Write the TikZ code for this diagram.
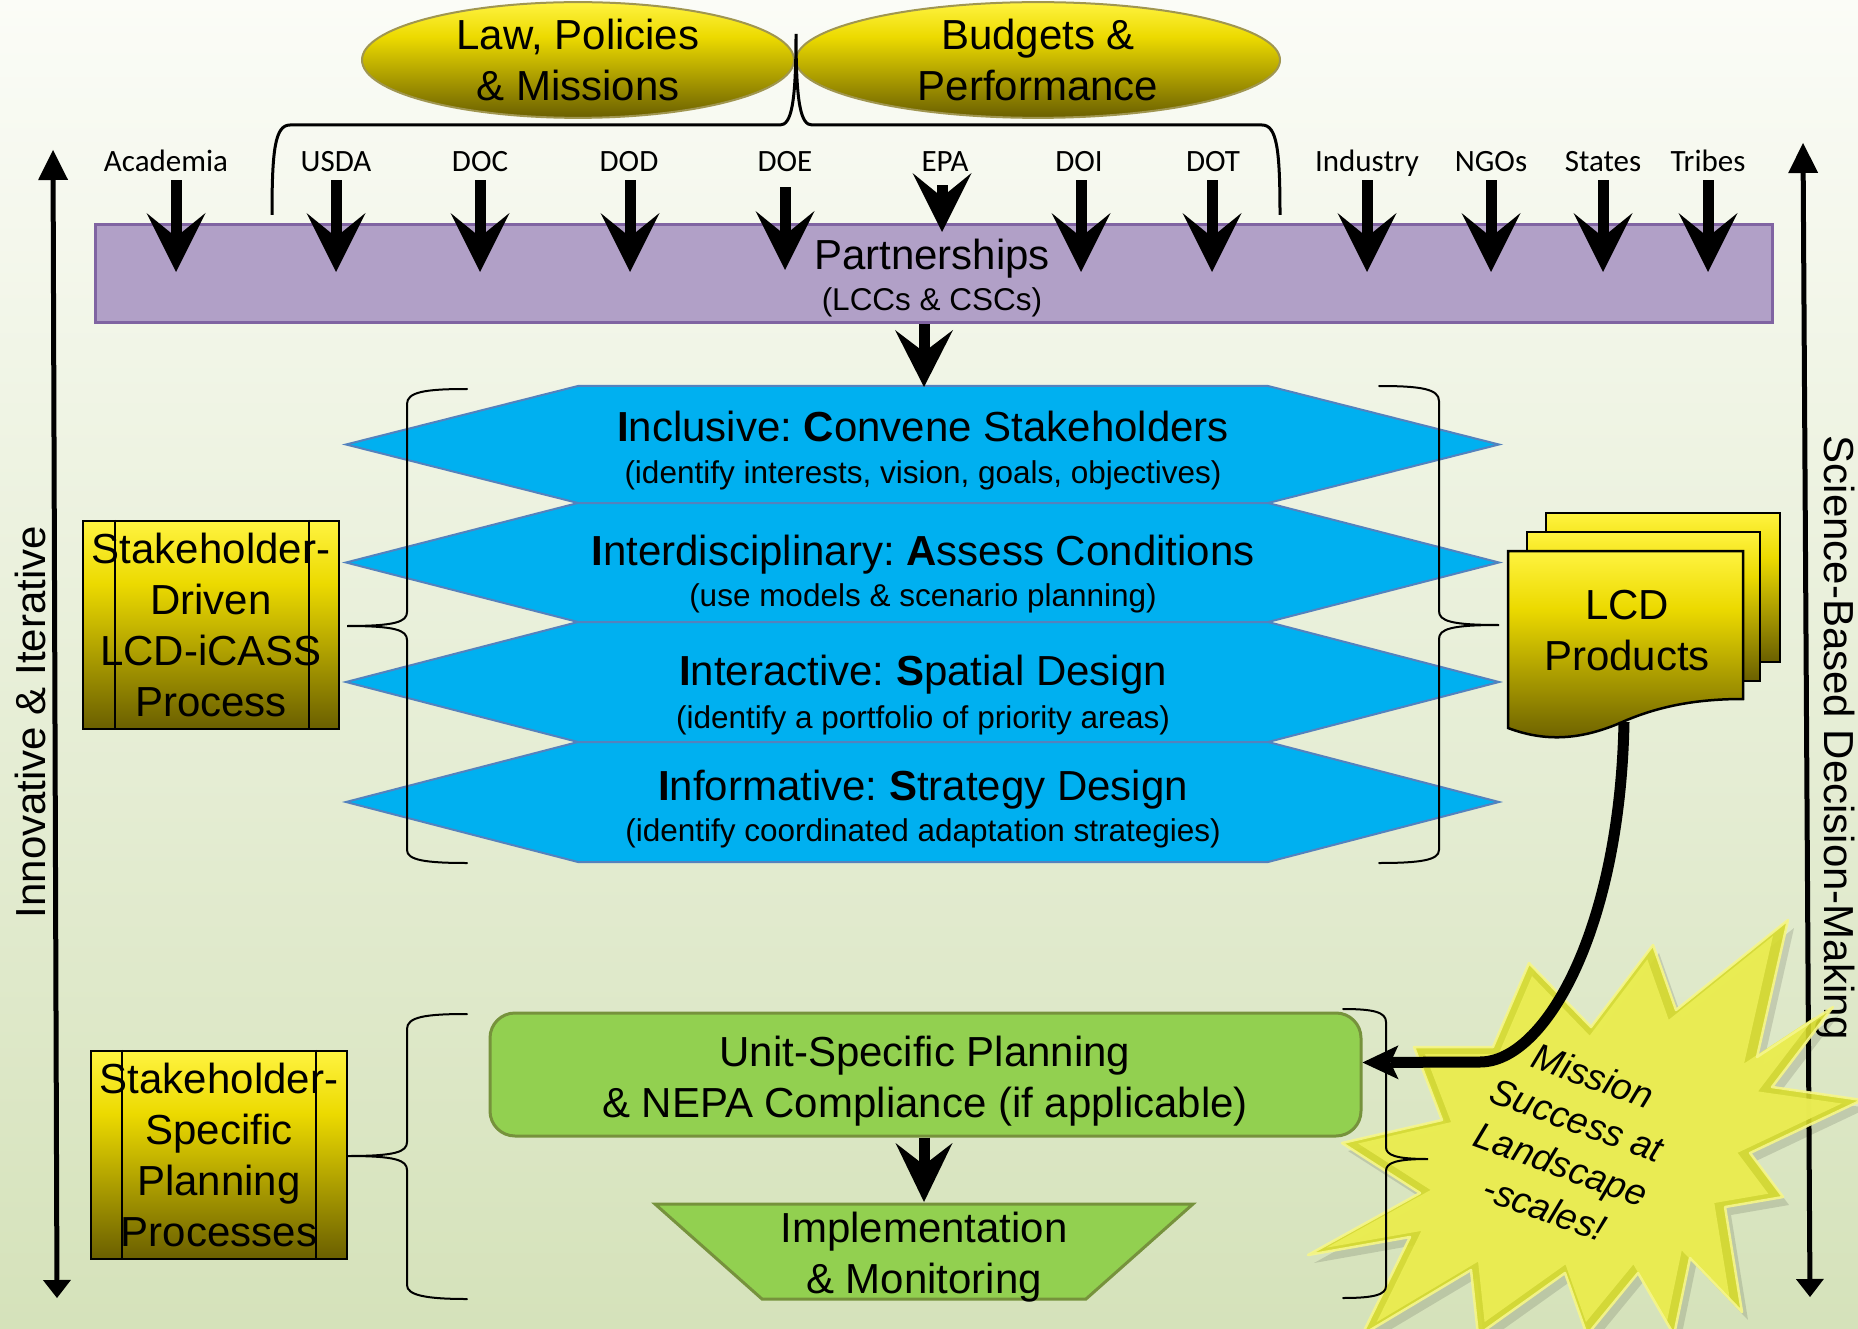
\documentclass[tikz,border=0pt]{standalone}
\usepackage{fontspec}
\setmainfont{Liberation Sans}
\newfontfamily\agfont{Carlito}
\usetikzlibrary{arrows.meta,calc,shapes.geometric}
\frenchspacing
\definecolor{bgtop}{RGB}{251,252,247}
\definecolor{bgbot}{RGB}{213,226,186}
\definecolor{gtop}{RGB}{255,243,64}
\definecolor{gmid}{RGB}{236,218,0}
\definecolor{gdark}{RGB}{106,95,0}
\definecolor{hexblue}{RGB}{0,176,240}
\definecolor{hexedge}{RGB}{84,130,190}
\definecolor{partfill}{RGB}{177,160,199}
\definecolor{partedge}{RGB}{128,100,162}
\definecolor{grfill}{RGB}{146,208,80}
\definecolor{gredge}{RGB}{118,146,60}
\definecolor{elledge}{RGB}{160,150,80}
\definecolor{starfill}{RGB}{214,218,44}
\definecolor{starinner}{RGB}{236,238,86}
\definecolor{staredge}{RGB}{246,246,140}
\pgfdeclareverticalshading{gold}{100bp}{color(0bp)=(gdark); color(25bp)=(gdark); color(60bp)=(gmid); color(75bp)=(gtop); color(100bp)=(gtop)}
\newcommand\myfbig{\fontsize{42}{51}\selectfont}
\newcommand\myfsub{\fontsize{31.5}{37}\selectfont}
\newcommand\myfag{\agfont\fontsize{31}{37}\selectfont}
\newcommand\myfstar{\itshape\fontsize{37}{47}\selectfont}
\begin{document}
\begin{tikzpicture}[x=1pt,y=-1pt,
  aglbl/.style={font=\myfag, inner sep=0pt, text height=20pt, text depth=8pt, anchor=base},
  agarrow/.style={line width=11pt, -{Stealth[length=59pt,width=59pt,inset=24pt,line width=0pt]}},
  ellnode/.style={ellipse, draw=elledge, line width=2pt, shade, shading=gold, inner sep=0pt, align=center, font=\myfbig},
  goldbox/.style={draw=black, line width=2.5pt, shade, shading=gold, inner sep=0pt, align=center, font=\myfbig},
  docstyle/.style={draw=black, line width=2.5pt, shade, shading=gold},
  hexstyle/.style={fill=hexblue, draw=hexedge, line width=2pt},
  hextitle/.style={font=\myfbig, inner sep=0pt, anchor=base},
  hexsub/.style={font=\myfsub, inner sep=0pt, anchor=base},
  bracestyle/.style={line width=2pt, line cap=round},
  vertarrow/.style={line width=5pt, {Triangle[length=30pt,width=30pt,line width=0pt]}-{Triangle[length=18pt,width=28pt,line width=0pt]}},
  greenshape/.style={draw=gredge, fill=grfill, line width=3pt}
]
\useasboundingbox (0,0) rectangle (1858,1329);
\fill[top color=bgtop, bottom color=bgbot] (0,0) rectangle (1858,1329);

% right vertical arrow and label (under the star)
\coordinate (rtop) at (1803,143);
\coordinate (rbot) at (1810,1297);
\draw[vertarrow] (rtop) -- (rbot);
\node[rotate=-90, font=\myfbig, inner sep=0pt] (science) at (1835,738) {Science-Based Decision-Making};

% left vertical arrow and label
\coordinate (ltop) at (53,150);
\coordinate (lbot) at (57,1298);
\draw[vertarrow] (ltop) -- (lbot);
\node[rotate=90, font=\myfbig, inner sep=0pt] (innov) at (30,722) {Innovative \& Iterative};

% top ellipses
\node[ellnode, minimum width=432pt, minimum height=110pt] (law) at (578,60) {Law, Policies\\\& Missions};
\node[ellnode, minimum width=484pt, minimum height=110pt] (budget) at (1038,60) {Budgets \&\\Performance};

% agency brace
\draw[line width=3pt] (272,215) .. controls (272,150) and (275,125) .. (290,125) -- (780,125)
  .. controls (791,125) and (796,105) .. (796,34) .. controls (796,105) and (801,125) .. (812,125)
  -- (1262,125) .. controls (1277,125) and (1280,150) .. (1280,215);

% partnerships box
\node[draw=partedge, fill=partfill, line width=3pt, minimum width=1677pt, minimum height=98pt, inner sep=0pt] (part) at (933.5,274) {};

% agency labels
\node[aglbl] (acad) at (166,172) {Academia};
\node[aglbl] (usda) at (336,172) {USDA};
\node[aglbl] (doc) at (480,172) {DOC};
\node[aglbl] (dod) at (629,172) {DOD};
\node[aglbl] (doe) at (785,172) {DOE};
\node[aglbl] (epa) at (945,172) {EPA};
\node[aglbl] (doi) at (1079,172) {DOI};
\node[aglbl] (dot) at (1213,172) {DOT};
\node[aglbl] (industry) at (1367,172) {Industry};
\node[aglbl] (ngos) at (1491,172) {NGOs};
\node[aglbl] (states) at (1603,172) {States};
\node[aglbl] (tribes) at (1708,172) {Tribes};

\coordinate (acadT) at (176,272);
\coordinate (usdaT) at (336,272);
\coordinate (docT) at (480,272);
\coordinate (dodT) at (630,272);
\coordinate (doeT) at (785,270);
\coordinate (epaT) at (942,232);
\coordinate (doiT) at (1081,272);
\coordinate (dotT) at (1212,272);
\coordinate (industryT) at (1367,272);
\coordinate (ngosT) at (1491,272);
\coordinate (statesT) at (1603,272);
\coordinate (tribesT) at (1708,272);
\coordinate (doeS) at ([yshift=-7pt]doe.south);
\coordinate (epaS) at ([yshift=-5pt]epa.south);

\foreach \a in {acad,usda,doc,dod,doi,dot,industry,ngos,states,tribes}{
  \draw[agarrow] (\a.south -| \a T) -- (\a T);
}
\draw[agarrow] (doeS -| doeT) -- (doeT);
\draw[agarrow] (epaS -| epaT) -- (epaT);

\node[font=\myfbig, inner sep=0pt, anchor=base] (parttitle) at (932,270) {Partnerships};
\node[font=\myfsub, inner sep=0pt, anchor=base] (partsub) at (932,311) {(LCCs \& CSCs)};

% hexagons
\draw[hexstyle] (346,444.5) -- (578,386) -- (1268,386) -- (1499,444.5) -- (1268,503) -- (578,503) -- cycle;
\draw[hexstyle] (346,562.5) -- (578,503) -- (1268,503) -- (1499,562.5) -- (1268,622) -- (578,622) -- cycle;
\draw[hexstyle] (346,682) -- (578,622) -- (1268,622) -- (1499,682) -- (1268,742) -- (578,742) -- cycle;
\draw[hexstyle] (346,802) -- (578,742) -- (1268,742) -- (1499,802) -- (1268,862) -- (578,862) -- cycle;
\coordinate (hex1top) at (924,387);

\node[hextitle] (h1t) at (923,442) {\textbf{I}nclusive: \textbf{C}onvene Stakeholders};
\node[hexsub] (h1s) at (923,483) {(identify interests, vision, goals, objectives)};
\node[hextitle] (h2t) at (923,565) {\textbf{I}nterdisciplinary: \textbf{A}ssess Conditions};
\node[hexsub] (h2s) at (923,606) {(use models \& scenario planning)};
\node[hextitle] (h3t) at (923,685) {\textbf{I}nteractive: \textbf{S}patial Design};
\node[hexsub] (h3s) at (923,728) {(identify a portfolio of priority areas)};
\node[hextitle] (h4t) at (923,800) {\textbf{I}nformative: \textbf{S}trategy Design};
\node[hexsub] (h4s) at (923,841) {(identify coordinated adaptation strategies)};

\draw[line width=11pt, -{Stealth[length=57pt,width=58pt,inset=22pt,line width=0pt]}] (part.south -| hex1top) -- (hex1top);

% braces around hexagons
\draw[bracestyle] (467,389) .. controls (425,389) and (407,392) .. (407,404) -- (407,612)
  .. controls (407,622) and (395,626) .. (347,626) .. controls (395,626) and (407,630) .. (407,640)
  -- (407,850) .. controls (407,860) and (425,863) .. (467,863);
\draw[bracestyle] (1379,386) .. controls (1421,386) and (1439,389) .. (1439,401) -- (1439,611)
  .. controls (1439,621) and (1451,625) .. (1499,625) .. controls (1451,625) and (1439,629) .. (1439,639)
  -- (1439,850) .. controls (1439,860) and (1421,863) .. (1379,863);

% stakeholder-driven box
\node[goldbox, minimum width=256pt, minimum height=208pt] (sdriven) at (211,625) {Stakeholder-\\Driven\\LCD-iCASS\\Process};
\draw[line width=2pt] ([xshift=33pt]sdriven.north west) -- ([xshift=33pt]sdriven.south west);
\draw[line width=2pt] ([xshift=-31pt]sdriven.north east) -- ([xshift=-31pt]sdriven.south east);

% LCD products
\draw[docstyle] (1546,513) rectangle (1780,662);
\draw[docstyle] (1527,532) rectangle (1760,681);
\draw[docstyle] (1508,551) -- (1743,551) -- (1743,699) .. controls (1700,699) and (1660,705) .. (1620,723)
  .. controls (1580,740) and (1545,742) .. (1508,728) -- cycle;
\node[font=\myfbig, align=center, inner sep=0pt] (lcd) at (1627,631) {LCD\\Products};
\coordinate (lcdbottom) at (1624,722);

% star
\def\starpath{(1529,963) -- (1591,1027) -- (1653,945) -- (1676,1010) -- (1788,920) -- (1757,1057)
  -- (1833,1007) -- (1772,1087) -- (1862,1100) -- (1750,1153) -- (1783,1197) -- (1725,1207)
  -- (1742,1312) -- (1690,1258) -- (1674,1335) -- (1638,1273) -- (1587,1335) -- (1565,1273)
  -- (1478,1335) -- (1471,1270) -- (1362,1335) -- (1410,1237) -- (1308,1255) -- (1420,1193)
  -- (1342,1143) -- (1442,1120) -- (1414,1047) -- (1493,1047) -- cycle}
\fill[black, opacity=0.12, shift={(6pt,-8pt)}] \starpath;
\fill[starfill, opacity=0.9] \starpath;
\fill[starinner, opacity=0.9, scale around={0.93:(1572,1150)}] \starpath;
\draw[staredge, line width=2.5pt, line join=round, opacity=0.9] \starpath;
\node[font=\myfstar, align=center, rotate=-20, inner sep=0pt] (mission) at (1569,1142) {Mission\\Success at\\Landscape\\-scales!};

% lower section
\node[greenshape, rounded corners=25pt, minimum width=871pt, minimum height=123pt, inner sep=0pt] (green) at (925.5,1074.5) {};
\node[font=\myfbig, align=center, inner sep=0pt] (greentxt) at (925,1081) {Unit-Specific Planning\\\& NEPA Compliance (if applicable)};

\draw[greenshape] (655,1204) -- (1193,1204) -- (1086,1299) -- (762,1299) -- cycle;
\node[font=\myfbig, align=center, inner sep=0pt] (impl) at (924,1257) {Implementation\\\& Monitoring};
\coordinate (trtop) at (924,1202);
\draw[line width=11pt, -{Stealth[length=59pt,width=57pt,inset=22pt,line width=0pt]}] (green.south -| trtop) -- (trtop);

\node[goldbox, minimum width=256pt, minimum height=208pt] (sspec) at (219,1155) {Stakeholder-\\Specific\\Planning\\Processes};
\draw[line width=2pt] ([xshift=32pt]sspec.north west) -- ([xshift=32pt]sspec.south west);
\draw[line width=2pt] ([xshift=-32pt]sspec.north east) -- ([xshift=-32pt]sspec.south east);

\draw[bracestyle] (467,1014) .. controls (425,1014) and (407,1017) .. (407,1029) -- (407,1142)
  .. controls (407,1152) and (395,1156) .. (348,1156) .. controls (395,1156) and (407,1160) .. (407,1170)
  -- (407,1285) .. controls (407,1295) and (425,1299) .. (467,1299);
\draw[bracestyle] (1343,1009) .. controls (1373,1009) and (1386,1012) .. (1386,1022) -- (1386,1147)
  .. controls (1386,1155) and (1395,1159) .. (1428,1159) .. controls (1395,1159) and (1386,1163) .. (1386,1171)
  -- (1386,1286) .. controls (1386,1295) and (1373,1298) .. (1343,1298);

% curved arrow from LCD products to unit planning
\draw[line width=11pt, -{Stealth[length=36pt,width=34pt,inset=8pt,line width=0pt]}]
  (lcdbottom) .. controls (1620,930) and (1545,1062) .. (1480,1062) -- ([yshift=12pt]green.east);
\end{tikzpicture}
\end{document}
